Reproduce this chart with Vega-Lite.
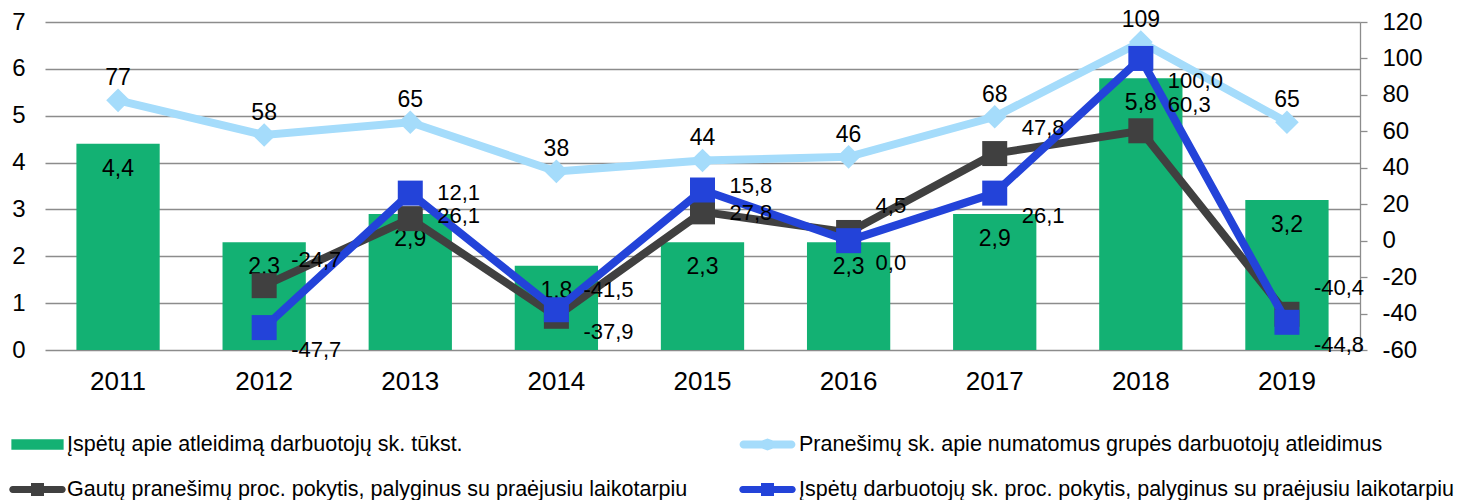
{
  "$schema": "https://vega.github.io/schema/vega-lite/v6.json",
  "width": 1315,
  "height": 328,
  "autosize": "none",
  "padding": {"left": 45, "top": 22, "right": 105, "bottom": 150},
  "background": "white",
  "config": {
    "locale": {"number": {"decimal": ",", "thousands": " ", "grouping": [3], "currency": ["", ""], "minus": "-"}},
    "font": "Liberation Sans",
    "view": {"stroke": null},
    "axis": {"labelFont": "Liberation Sans", "labelColor": "#000000", "title": null},
    "legend": {"orient": "none", "symbolSize": 3025, "labelFontSize": 21.5, "labelFont": "Liberation Sans", "labelColor": "#000000", "labelLimit": 0, "title": null, "padding": 0, "symbolStrokeWidth": 0, "symbolOpacity": 1}
  },
  "data": {
    "values": [
      {"year": "2011", "series": "Įspėtų apie atleidimą darbuotojų sk. tūkst.", "value": 4.4},
      {"year": "2012", "series": "Įspėtų apie atleidimą darbuotojų sk. tūkst.", "value": 2.3},
      {"year": "2013", "series": "Įspėtų apie atleidimą darbuotojų sk. tūkst.", "value": 2.9},
      {"year": "2014", "series": "Įspėtų apie atleidimą darbuotojų sk. tūkst.", "value": 1.8},
      {"year": "2015", "series": "Įspėtų apie atleidimą darbuotojų sk. tūkst.", "value": 2.3},
      {"year": "2016", "series": "Įspėtų apie atleidimą darbuotojų sk. tūkst.", "value": 2.3},
      {"year": "2017", "series": "Įspėtų apie atleidimą darbuotojų sk. tūkst.", "value": 2.9},
      {"year": "2018", "series": "Įspėtų apie atleidimą darbuotojų sk. tūkst.", "value": 5.8},
      {"year": "2019", "series": "Įspėtų apie atleidimą darbuotojų sk. tūkst.", "value": 3.2},
      {"year": "2011", "series": "Pranešimų sk. apie numatomus grupės darbuotojų atleidimus", "value": 77},
      {"year": "2012", "series": "Pranešimų sk. apie numatomus grupės darbuotojų atleidimus", "value": 58},
      {"year": "2013", "series": "Pranešimų sk. apie numatomus grupės darbuotojų atleidimus", "value": 65},
      {"year": "2014", "series": "Pranešimų sk. apie numatomus grupės darbuotojų atleidimus", "value": 38},
      {"year": "2015", "series": "Pranešimų sk. apie numatomus grupės darbuotojų atleidimus", "value": 44},
      {"year": "2016", "series": "Pranešimų sk. apie numatomus grupės darbuotojų atleidimus", "value": 46},
      {"year": "2017", "series": "Pranešimų sk. apie numatomus grupės darbuotojų atleidimus", "value": 68},
      {"year": "2018", "series": "Pranešimų sk. apie numatomus grupės darbuotojų atleidimus", "value": 109},
      {"year": "2019", "series": "Pranešimų sk. apie numatomus grupės darbuotojų atleidimus", "value": 65},
      {"year": "2012", "series": "Gautų pranešimų proc. pokytis, palyginus su praėjusiu laikotarpiu", "value": -24.7},
      {"year": "2013", "series": "Gautų pranešimų proc. pokytis, palyginus su praėjusiu laikotarpiu", "value": 12.1},
      {"year": "2014", "series": "Gautų pranešimų proc. pokytis, palyginus su praėjusiu laikotarpiu", "value": -41.5},
      {"year": "2015", "series": "Gautų pranešimų proc. pokytis, palyginus su praėjusiu laikotarpiu", "value": 15.8},
      {"year": "2016", "series": "Gautų pranešimų proc. pokytis, palyginus su praėjusiu laikotarpiu", "value": 4.5},
      {"year": "2017", "series": "Gautų pranešimų proc. pokytis, palyginus su praėjusiu laikotarpiu", "value": 47.8},
      {"year": "2018", "series": "Gautų pranešimų proc. pokytis, palyginus su praėjusiu laikotarpiu", "value": 60.3},
      {"year": "2019", "series": "Gautų pranešimų proc. pokytis, palyginus su praėjusiu laikotarpiu", "value": -40.4},
      {"year": "2012", "series": "Įspėtų darbuotojų sk. proc. pokytis, palyginus su praėjusiu laikotarpiu", "value": -47.7},
      {"year": "2013", "series": "Įspėtų darbuotojų sk. proc. pokytis, palyginus su praėjusiu laikotarpiu", "value": 26.1},
      {"year": "2014", "series": "Įspėtų darbuotojų sk. proc. pokytis, palyginus su praėjusiu laikotarpiu", "value": -37.9},
      {"year": "2015", "series": "Įspėtų darbuotojų sk. proc. pokytis, palyginus su praėjusiu laikotarpiu", "value": 27.8},
      {"year": "2016", "series": "Įspėtų darbuotojų sk. proc. pokytis, palyginus su praėjusiu laikotarpiu", "value": 0.0},
      {"year": "2017", "series": "Įspėtų darbuotojų sk. proc. pokytis, palyginus su praėjusiu laikotarpiu", "value": 26.1},
      {"year": "2018", "series": "Įspėtų darbuotojų sk. proc. pokytis, palyginus su praėjusiu laikotarpiu", "value": 100.0},
      {"year": "2019", "series": "Įspėtų darbuotojų sk. proc. pokytis, palyginus su praėjusiu laikotarpiu", "value": -44.8}
    ]
  },
  "encoding": {
    "x": {
      "field": "year", "type": "ordinal",
      "scale": {"paddingInner": 0.43, "paddingOuter": 0.215},
      "axis": {"orient": "bottom", "domain": false, "ticks": false, "tickSize": 0, "labelPadding": 18, "labelFontSize": 26, "labelAngle": 0, "title": null}
    }
  },
  "layer": [
    {
      "transform": [{"filter": {"field": "series", "equal": "Įspėtų apie atleidimą darbuotojų sk. tūkst."}}],
      "encoding": {
        "y": {
          "field": "value", "type": "quantitative",
          "scale": {"domain": [0, 7], "nice": false, "zero": true},
          "axis": {"orient": "left", "values": [0, 1, 2, 3, 4, 5, 6, 7], "grid": true, "gridColor": "#8c8c8c", "gridWidth": 1.3, "domain": false, "ticks": false, "tickSize": 0, "labelPadding": 20, "labelFontSize": 24, "title": null}
        }
      },
      "layer": [
        {
          "mark": {"type": "bar", "opacity": 1},
          "encoding": {
            "color": {
              "field": "series", "type": "nominal",
              "scale": {"range": ["#13B173"]},
              "legend": {"legendX": -35, "legendY": 395, "labelOffset": 2, "symbolType": "M-0.95,-0.195H0.95V0.195H-0.95Z"}
            }
          }
        },
        {
          "mark": {"type": "text", "baseline": "middle", "align": "center", "dy": 25, "fontSize": 23, "color": "#000000"},
          "encoding": {"text": {"field": "value", "type": "quantitative", "format": ".1f"}}
        }
      ]
    },
    {
      "encoding": {
        "y": {
          "field": "value", "type": "quantitative",
          "scale": {"domain": [-60, 120], "nice": false, "zero": false},
          "axis": {"orient": "right", "values": [-60, -40, -20, 0, 20, 40, 60, 80, 100, 120], "grid": false, "domain": true, "domainColor": "#8c8c8c", "domainWidth": 1.3, "ticks": true, "tickSize": 7, "tickColor": "#8c8c8c", "tickWidth": 1.3, "labelPadding": 15, "labelFontSize": 24, "title": null}
        }
      },
      "layer": [
        {
          "transform": [{"filter": {"field": "series", "equal": "Pranešimų sk. apie numatomus grupės darbuotojų atleidimus"}}],
          "mark": {"type": "line", "strokeWidth": 8, "color": "#A5DCFB"}
        },
        {
          "transform": [{"filter": {"field": "series", "equal": "Pranešimų sk. apie numatomus grupės darbuotojų atleidimus"}}],
          "mark": {"type": "point", "shape": "diamond", "filled": true, "size": 560, "opacity": 1, "strokeWidth": 0},
          "encoding": {
            "color": {
              "field": "series", "type": "nominal",
              "scale": {"range": ["#A5DCFB"]},
              "legend": {"legendX": 695, "legendY": 395, "labelOffset": 4, "symbolType": "M-0.87,-0.145H-0.2L0,-0.22L0.2,-0.145H0.87A0.145,0.145 0 0 1 0.87,0.145H0.2L0,0.22L-0.2,0.145H-0.87A0.145,0.145 0 0 1 -0.87,-0.145Z"}
            }
          }
        },
        {
          "transform": [{"filter": {"field": "series", "equal": "Gautų pranešimų proc. pokytis, palyginus su praėjusiu laikotarpiu"}}],
          "mark": {"type": "line", "strokeWidth": 8, "color": "#404040"}
        },
        {
          "transform": [{"filter": {"field": "series", "equal": "Gautų pranešimų proc. pokytis, palyginus su praėjusiu laikotarpiu"}}],
          "mark": {"type": "point", "shape": "square", "filled": true, "size": 625, "opacity": 1, "strokeWidth": 0},
          "encoding": {
            "color": {
              "field": "series", "type": "nominal",
              "scale": {"range": ["#404040"]},
              "legend": {"legendX": -35, "legendY": 440, "labelOffset": 2, "symbolType": "M-0.9,-0.127H-0.236V-0.236H0.236V-0.127H0.9A0.127,0.127 0 0 1 0.9,0.127H0.236V0.236H-0.236V0.127H-0.9A0.127,0.127 0 0 1 -0.9,-0.127Z"}
            }
          }
        },
        {
          "transform": [{"filter": {"field": "series", "equal": "Įspėtų darbuotojų sk. proc. pokytis, palyginus su praėjusiu laikotarpiu"}}],
          "mark": {"type": "line", "strokeWidth": 8, "color": "#2343D9"}
        },
        {
          "transform": [{"filter": {"field": "series", "equal": "Įspėtų darbuotojų sk. proc. pokytis, palyginus su praėjusiu laikotarpiu"}}],
          "mark": {"type": "point", "shape": "square", "filled": true, "size": 625, "opacity": 1, "strokeWidth": 0},
          "encoding": {
            "color": {
              "field": "series", "type": "nominal",
              "scale": {"range": ["#2343D9"]},
              "legend": {"legendX": 695, "legendY": 440, "labelOffset": 4, "symbolType": "M-0.9,-0.127H-0.236V-0.236H0.236V-0.127H0.9A0.127,0.127 0 0 1 0.9,0.127H0.236V0.236H-0.236V0.127H-0.9A0.127,0.127 0 0 1 -0.9,-0.127Z"}
            }
          }
        },
        {
          "transform": [{"filter": {"field": "series", "equal": "Pranešimų sk. apie numatomus grupės darbuotojų atleidimus"}}],
          "mark": {"type": "text", "baseline": "middle", "align": "center", "dy": -22, "fontSize": 23, "color": "#000000"},
          "encoding": {"text": {"field": "value", "type": "quantitative", "format": "d"}}
        },
        {
          "transform": [{"filter": {"field": "series", "equal": "Gautų pranešimų proc. pokytis, palyginus su praėjusiu laikotarpiu"}}],
          "mark": {"type": "text", "baseline": "middle", "align": "left", "dx": 27, "dy": -26, "fontSize": 22, "color": "#000000"},
          "encoding": {"text": {"field": "value", "type": "quantitative", "format": ".1f"}}
        },
        {
          "transform": [{"filter": {"field": "series", "equal": "Įspėtų darbuotojų sk. proc. pokytis, palyginus su praėjusiu laikotarpiu"}}],
          "mark": {"type": "text", "baseline": "middle", "align": "left", "dx": 27, "dy": 22.75, "fontSize": 22, "color": "#000000"},
          "encoding": {"text": {"field": "value", "type": "quantitative", "format": ".1f"}}
        }
      ],
      "resolve": {"scale": {"color": "independent"}}
    }
  ],
  "resolve": {"scale": {"y": "independent", "color": "independent"}}
}
